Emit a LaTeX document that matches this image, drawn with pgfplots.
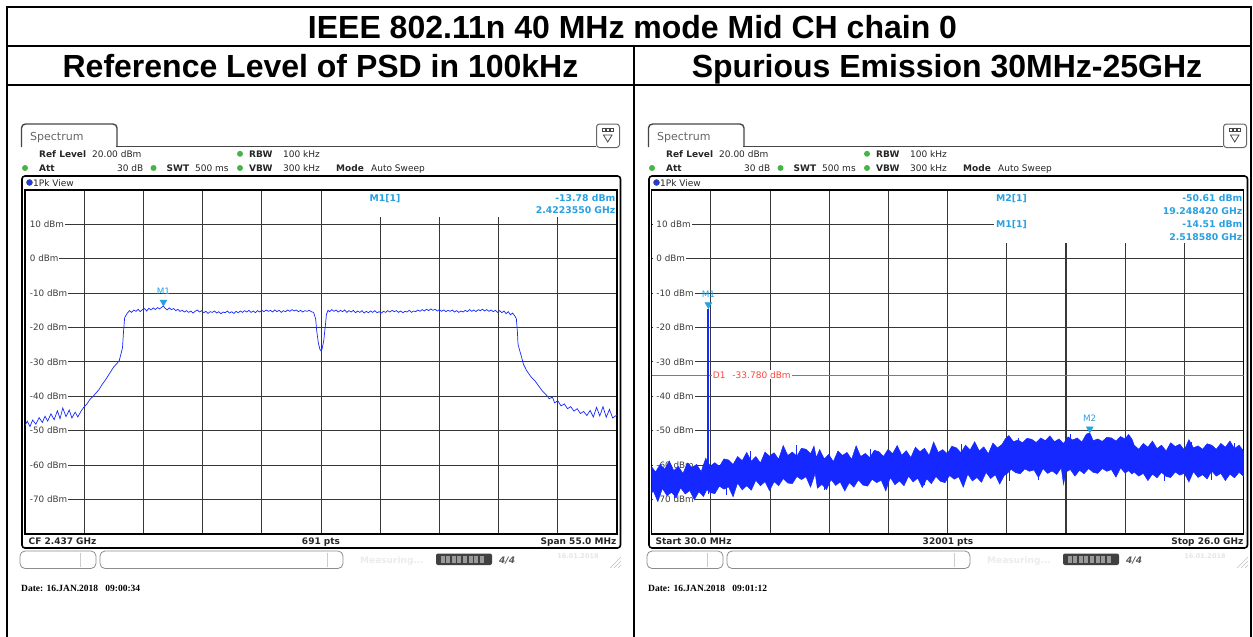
\documentclass[border=0pt]{standalone}
\usepackage{fontspec}
\setmainfont{Liberation Sans}
\newfontfamily\dvs{DejaVu Sans}
\newfontfamily\lser{Liberation Serif}
\usepackage{pgfplots}
\pgfplotsset{compat=1.18}

\definecolor{trace}{RGB}{20,40,255}
\definecolor{mk}{RGB}{40,160,225}
\definecolor{dline}{RGB}{255,70,60}
\definecolor{gridc}{RGB}{55,55,55}
\definecolor{lbl}{RGB}{60,60,60}
\definecolor{led}{RGB}{70,180,70}
\definecolor{chr}{RGB}{70,70,70}

\newcommand{\sm}{\dvs\fontsize{9}{10}\selectfont}
\newcommand{\lb}{\dvs\fontsize{8.8}{10}\selectfont}
\newcommand{\infofont}{\dvs\fontsize{9.3}{10}\selectfont\bfseries}

\tikzset{
  hd/.style={anchor=base west, inner sep=0pt, font=\sm, text=black!85},
  info/.style={anchor=base west, inner sep=0pt, font=\infofont, text=mk},
  ylab/.style={anchor=west, fill=white, inner xsep=0pt, inner ysep=1.2pt,
    text=lbl, font=\lb},
}
\pgfplotsset{
  scr/.style={scale only axis, width=591.9pt, height=344pt, anchor=south west,
    ymin=-80, ymax=20, ytick={-70,-60,-50,-40,-30,-20,-10,0,10},
    grid=major, xticklabels={}, yticklabels={}, major tick length=0pt,
    axis line style={black, line width=1.3pt},
    major grid style={gridc, line width=1.1pt}},
  mkr/.style={mk, only marks, mark=triangle*, mark size=4pt,
    mark options={yshift=4pt, rotate=180}, nodes near coords={#1},
    every node near coord/.style={font=\lb, text=mk, anchor=south, yshift=6.5pt, inner sep=0.5pt}},
}

% instrument screen chrome, drawn in pixel coordinates (y down)
\newcommand{\screen}[5]{%
  \begin{scope}[shift={(#1,0)}]
    \draw[chr, line width=1.4pt, fill=white, rounded corners=4pt] (21.5,147) -- (21.5,124) -- (117,124) -- (117,147);
    \draw[chr, line width=1.4pt] (116.3,146.5) -- (596,146.5);
    \node[anchor=base west, inner sep=0pt, font=\dvs\fontsize{11}{12}\selectfont, text=black!60] at (30,140) {Spectrum};
    \draw[black!60, line width=1pt, fill=white, rounded corners=3pt] (596.5,124) rectangle (619.5,147.5);
    \fill[chr] (601.5,127.5) rectangle (614,132);
    \foreach \i in {0,1,2} \fill[white] (603.2+3.8*\i,129) rectangle (605.2+3.8*\i,130.6);
    \draw[chr, line width=0.8pt] (603.5,135) -- (612,135) -- (607.75,142) -- cycle;
    \node[hd, font=\sm\bfseries] at (39,157.3) {Ref Level};
    \node[hd] at (92,157.3) {20.00 dBm};
    \fill[led] (240,153.8) circle (3);
    \node[hd, font=\sm\bfseries] at (249,157.3) {RBW};
    \node[hd] at (283,157.3) {100 kHz};
    \fill[led] (25,168) circle (3);
    \node[hd, font=\sm\bfseries] at (39,171.5) {Att};
    \node[hd, anchor=base east] at (143.5,171.5) {30 dB};
    \fill[led] (153.5,168) circle (3);
    \node[hd, font=\sm\bfseries] at (166.5,171.5) {SWT};
    \node[hd] at (195,171.5) {500 ms};
    \fill[led] (240,168) circle (3);
    \node[hd, font=\sm\bfseries] at (249,171.5) {VBW};
    \node[hd] at (283,171.5) {300 kHz};
    \node[hd, font=\sm\bfseries] at (336,171.5) {Mode};
    \node[hd] at (371,171.5) {Auto Sweep};
    \draw[black, line width=1.6pt, rounded corners=3pt] (22,176) rectangle (620.5,548);
    \draw[black!70, fill={rgb,255:red,30;green,60;blue,230}] (29.5,182.5) circle (3);
    \node[hd] at (33,186) {1Pk View};
    \node[hd, font=\sm\bfseries] at (28.5,544) {#2};
    \node[hd, anchor=base, font=\sm\bfseries] at (321,544) {#3};
    \node[hd, anchor=base east, font=\sm\bfseries] at (616.5,544) {#4};
    \draw[black!45, line width=0.8pt, rounded corners=5pt] (20,551) rectangle (96,568.5);
    \draw[black!20] (80,553) -- (80,566.5);
    \draw[black!45, line width=0.8pt, rounded corners=5pt] (100,551) rectangle (343,568.5);
    \draw[black!20] (327,553) -- (327,566.5);
    \node[hd, font=\sm\bfseries, text=black!8] at (360,563) {Measuring...};
    \fill[black!75, rounded corners=2pt] (436,553.5) rectangle (492,565);
    \foreach \i in {0,...,7} \fill[black!40] (440.5+5.6*\i,555.5) rectangle (444.5+5.6*\i,563);
    \node[hd, font=\sm\bfseries\itshape, text=black!65] at (499,563.5) {4/4};
    \node[hd, anchor=base, font=\dvs\fontsize{6.5}{7}\selectfont\bfseries, text=black!10] at (578,558) {16.01.2018};
    \foreach \i in {0,1,2} \draw[black!25] (610+4*\i,568) -- (621,557+4*\i);
    \node[anchor=base west, inner sep=0pt, font=\lser\fontsize{9.5}{10}\selectfont\bfseries] at (21,591) {#5};
  \end{scope}}

\begin{document}
\begin{tikzpicture}
\path[use as bounding box] (0pt,0pt) rectangle (1253pt,-637pt);

% ---------- left: PSD reference level ----------
\begin{axis}[scr, at={(25.1pt,-533.9pt)}, xmin=2409.5, xmax=2464.5,
  xtick={2415,2420.5,2426,2431.5,2437,2442.5,2448,2453.5,2459}]
  \pgfplotsinvokeforeach{10,0,-10,-20,-30,-40,-50,-60,-70}{%
    \node[ylab] at (axis cs:2409.6,#1) {\kern3.5pt#1 dBm\kern1pt};}
  \addplot[trace, line width=0.7pt] coordinates {
    (2409.5,-48.5)(2409.7,-47.2)(2409.95,-48.8)(2410.2,-46.9)(2410.5,-48.1)(2410.8,-46.2)
    (2411.1,-47.6)(2411.35,-45.8)(2411.6,-47.2)(2411.9,-45.1)(2412.2,-46.8)(2412.5,-44.2)
    (2412.75,-46.5)(2413.0,-43.4)(2413.3,-45.9)(2413.6,-44.0)(2413.85,-46.3)(2414.15,-44.6)
    (2414.4,-46.0)(2414.7,-44.3)(2415.0,-43.0)(2415.25,-42.2)(2415.55,-40.8)(2415.8,-40.1)
    (2416.1,-39.0)(2416.4,-37.9)(2416.65,-36.6)(2416.95,-35.3)(2417.2,-34.1)(2417.5,-32.6)
    (2417.75,-31.4)(2418.05,-30.4)(2418.25,-29.6)(2418.4,-27.8)(2418.55,-25.9)(2418.65,-21.0)
    (2418.75,-17.2)(2418.9,-16.3)
    (2419.0,-15.8)(2419.2,-15.1)(2419.4,-15.6)(2419.6,-14.9)(2419.8,-15.3)(2420.0,-14.7)
    (2420.2,-15.4)(2420.4,-14.8)(2420.6,-14.5)(2420.8,-15.2)(2421.0,-14.4)(2421.2,-14.9)
    (2421.4,-14.3)(2421.6,-14.8)(2421.8,-14.2)(2422.0,-14.6)(2422.2,-14.1)(2422.355,-13.78)
    (2422.5,-14.4)(2422.7,-14.9)(2422.9,-14.3)(2423.1,-14.8)(2423.3,-14.5)(2423.5,-15.1)
    (2423.7,-14.7)(2423.9,-15.3)(2424.1,-15.0)(2424.3,-15.5)(2424.5,-15.1)(2424.7,-15.6)
    (2424.9,-15.2)(2425.1,-15.8)(2425.3,-15.3)(2425.5,-14.9)(2425.7,-15.5)(2425.9,-15.1)
    (2426.1,-15.7)(2426.3,-15.3)(2426.5,-15.9)(2426.7,-15.4)(2426.9,-15.6)(2427.1,-15.2)
    (2427.3,-15.8)(2427.5,-15.4)(2427.7,-16.0)(2427.9,-15.5)(2428.1,-15.7)(2428.3,-15.2)
    (2428.5,-15.8)(2428.7,-15.4)(2428.9,-15.9)(2429.1,-15.3)(2429.3,-15.7)(2429.5,-15.2)
    (2429.7,-15.6)(2429.9,-15.1)(2430.1,-15.5)(2430.3,-15.0)(2430.5,-15.6)(2430.7,-15.2)
    (2430.9,-15.7)(2431.1,-15.1)(2431.3,-15.5)(2431.5,-15.0)(2431.7,-15.4)(2431.9,-14.9)
    (2432.1,-15.3)(2432.3,-15.0)(2432.5,-15.5)(2432.7,-14.9)(2432.9,-15.4)(2433.1,-15.0)
    (2433.3,-15.6)(2433.5,-15.1)(2433.7,-15.4)(2433.9,-14.9)(2434.1,-15.3)(2434.3,-14.8)
    (2434.5,-15.2)(2434.7,-14.9)(2434.9,-15.4)(2435.1,-15.0)(2435.3,-15.5)(2435.5,-15.1)
    (2435.7,-15.3)(2435.9,-15.0)(2436.1,-15.4)(2436.3,-15.6)
    (2436.5,-17.5)(2436.6,-21.0)(2436.75,-24.5)(2436.9,-26.4)(2437.0,-26.8)(2437.1,-26.2)
    (2437.25,-23.8)(2437.4,-19.5)(2437.5,-16.2)(2437.65,-15.0)
    (2437.8,-15.4)(2438.0,-14.8)(2438.2,-15.3)(2438.4,-14.9)(2438.6,-15.5)(2438.8,-15.0)
    (2439.0,-15.4)(2439.2,-14.9)(2439.4,-15.6)(2439.6,-15.1)(2439.8,-15.5)(2440.0,-15.0)
    (2440.2,-15.7)(2440.4,-15.2)(2440.6,-15.6)(2440.8,-15.1)(2441.0,-15.8)(2441.2,-15.3)
    (2441.4,-15.7)(2441.6,-15.2)(2441.8,-15.6)(2442.0,-15.1)(2442.2,-15.7)(2442.4,-15.4)
    (2442.6,-15.8)(2442.8,-15.3)(2443.0,-15.6)(2443.2,-15.1)(2443.4,-15.5)(2443.6,-15.0)
    (2443.8,-15.4)(2444.0,-15.1)(2444.2,-15.6)(2444.4,-15.2)(2444.6,-15.7)(2444.8,-15.3)
    (2445.0,-15.5)(2445.2,-15.0)(2445.4,-15.6)(2445.6,-15.2)(2445.8,-15.4)(2446.0,-14.9)
    (2446.2,-15.3)(2446.4,-14.8)(2446.6,-15.2)(2446.8,-14.7)(2447.0,-15.1)(2447.2,-14.6)
    (2447.4,-15.0)(2447.6,-14.7)(2447.8,-15.2)(2448.0,-14.8)(2448.2,-15.3)(2448.4,-14.9)
    (2448.6,-15.4)(2448.8,-15.0)(2449.0,-15.3)(2449.2,-14.9)(2449.4,-15.5)(2449.6,-15.1)
    (2449.8,-15.6)(2450.0,-15.2)(2450.2,-15.5)(2450.4,-15.0)(2450.6,-15.4)(2450.8,-14.8)
    (2451.0,-15.3)(2451.2,-14.9)(2451.4,-15.4)(2451.6,-14.8)(2451.8,-15.1)(2452.0,-14.7)
    (2452.2,-15.2)(2452.4,-14.8)(2452.6,-15.3)(2452.8,-14.9)(2453.0,-15.4)(2453.2,-15.0)
    (2453.4,-15.6)(2453.6,-15.1)(2453.8,-15.7)(2454.0,-15.2)(2454.2,-16.0)(2454.4,-15.4)
    (2454.6,-16.3)(2454.8,-15.8)(2455.0,-16.6)
    (2455.15,-17.5)(2455.25,-21.5)(2455.3,-24.8)(2455.45,-26.6)(2455.6,-28.2)(2455.8,-30.6)
    (2456.1,-32.5)(2456.5,-34.3)(2456.9,-35.6)(2457.2,-36.9)(2457.6,-38.6)(2457.9,-39.5)
    (2458.2,-40.7)(2458.5,-40.2)(2458.7,-41.9)(2459.0,-41.3)(2459.3,-42.8)(2459.6,-42.2)
    (2459.9,-43.6)(2460.2,-43.0)(2460.5,-44.3)(2460.8,-43.6)(2461.1,-45.0)(2461.4,-44.4)
    (2461.7,-45.6)(2462.0,-44.1)(2462.3,-46.0)(2462.6,-43.2)(2462.9,-45.7)(2463.2,-43.0)
    (2463.5,-46.1)(2463.8,-43.8)(2464.1,-46.3)(2464.5,-45.4)};
  \addplot[mkr=M1] coordinates {(2422.355,-13.78)};
\end{axis}

% ---------- right: spurious emission ----------
\begin{axis}[scr, at={(651.7pt,-533.9pt)}, xmin=0.03, xmax=26,
  xtick={2.627,5.224,7.821,10.418,13.015,15.612,18.209,20.806,23.403}]
  \pgfplotsinvokeforeach{10,0,-10,-20,-30,-40,-50,-60,-70}{%
    \node[ylab] at (axis cs:0.075,#1) {\kern3.5pt#1 dBm\kern1pt};}
  \addplot[dline, line width=0.8pt] coordinates {(0.03,-33.78) (26,-33.78)};
  \node[anchor=west, fill=white, text=dline, font=\sm, inner xsep=1pt, inner ysep=1pt]
    at (axis cs:2.66,-33.78) {D1\kern7pt-33.780 dBm};
  % noise band: upper envelope left to right, lower envelope right to left
  \addplot[draw=trace, fill=trace, line width=0.5pt] coordinates {
    (0.03,-60.5)(0.2,-62.0)(0.4,-59.8)(0.6,-61.2)(0.8,-58.8)(1.0,-61.6)(1.2,-60.4)(1.4,-62.4)
    (1.6,-59.4)(1.8,-60.7)(2.0,-59.8)(2.2,-61.9)(2.4,-58.0)(2.6,-60.3)(2.8,-59.3)(3.0,-60.4)
    (3.2,-58.2)(3.4,-58.5)(3.6,-59.8)(3.8,-57.5)(4.0,-58.7)(4.2,-56.3)(4.4,-58.9)(4.6,-57.5)
    (4.8,-59.4)(5.0,-56.2)(5.2,-57.4)(5.4,-56.4)(5.6,-58.3)(5.8,-54.3)(6.0,-57.2)(6.2,-56.2)
    (6.4,-57.4)(6.6,-55.1)(6.8,-55.4)(7.0,-56.7)(7.15,-54.5)(7.25,-57.8)(7.4,-55.5)(7.6,-58.2)
    (7.8,-56.9)(8.0,-59.0)(8.2,-55.9)(8.4,-57.2)(8.6,-56.3)(8.8,-58.3)(9.0,-54.4)(9.2,-57.5)
    (9.4,-56.6)(9.6,-57.8)(9.8,-55.7)(10.0,-56.1)(10.2,-57.5)(10.4,-55.4)(10.6,-56.7)(10.8,-54.3)
    (11.0,-57.1)(11.2,-55.8)(11.4,-57.8)(11.6,-54.8)(11.8,-56.1)(12.0,-55.1)(12.2,-57.2)(12.4,-53.3)
    (12.6,-56.3)(12.8,-55.5)(13.0,-56.7)(13.2,-54.5)(13.4,-55.0)(13.6,-56.4)(13.8,-54.2)(14.0,-55.6)
    (14.2,-53.2)(14.4,-55.9)(14.6,-54.7)(14.8,-56.7)(15.0,-53.6)(15.2,-55.0)(15.4,-54.0)(15.55,-52.3)
    (15.7,-51.4)(15.9,-53.2)(16.1,-52.7)(16.3,-53.5)(16.5,-52.2)(16.7,-52.5)(16.9,-53.4)(17.1,-52.1)
    (17.3,-52.9)(17.5,-51.5)(17.7,-53.2)(17.9,-52.4)(18.1,-53.7)(18.3,-51.8)(18.5,-52.7)(18.7,-52.1)
    (18.9,-53.3)(19.1,-51.0)(19.25,-50.6)(19.4,-52.9)(19.6,-52.4)(19.8,-53.1)(20.0,-51.9)(20.2,-52.1)
    (20.4,-53.0)(20.6,-51.7)(20.8,-52.4)(20.95,-51.1)(21.1,-52.4)(21.2,-54.2)(21.4,-55.4)(21.6,-53.7)
    (21.8,-54.8)(22.0,-53.0)(22.2,-55.2)(22.4,-54.2)(22.6,-55.9)(22.8,-53.5)(23.0,-54.6)(23.2,-53.9)
    (23.4,-55.6)(23.6,-52.6)(23.8,-55.0)(24.0,-54.4)(24.2,-55.4)(24.4,-53.8)(24.6,-54.2)(24.8,-55.4)
    (25.0,-53.7)(25.2,-54.8)(25.4,-53.0)(25.6,-55.2)(25.8,-54.2)(26.0,-55.9)
    (26.0,-63.3)(25.8,-62.1)(25.6,-63.7)(25.4,-62.6)(25.2,-64.5)(25.0,-62.4)(24.8,-63.2)(24.6,-61.7)
    (24.4,-64.0)(24.2,-62.8)(24.0,-63.6)(23.8,-61.9)(23.6,-64.9)(23.4,-62.4)(23.2,-62.9)(23.0,-62.0)
    (22.8,-63.6)(22.6,-63.3)(22.4,-62.1)(22.2,-63.7)(22.0,-62.6)(21.8,-64.5)(21.6,-62.4)(21.4,-63.2)
    (21.2,-62.0)(21.1,-62.6)(20.95,-61.6)(20.8,-62.3)(20.6,-60.8)(20.4,-63.5)(20.2,-61.3)(20.0,-61.8)
    (19.8,-61.0)(19.6,-62.4)(19.4,-62.1)(19.2,-61.0)(19.0,-62.5)(18.8,-61.5)(18.6,-63.2)(18.4,-61.3)
    (18.2,-62.0)(18.1,-65.6)(18.0,-60.8)(17.8,-62.7)(17.6,-61.7)(17.4,-62.4)(17.2,-61.0)(17.0,-63.6)
    (16.8,-61.4)(16.6,-61.8)(16.4,-61.1)(16.2,-62.5)(16.0,-62.2)(15.8,-61.2)(15.6,-62.6)(15.5,-63.0)
    (15.3,-65.5)(15.1,-62.8)(14.9,-63.9)(14.7,-62.1)(14.5,-65.0)(14.3,-63.6)(14.1,-64.6)(13.9,-62.6)
    (13.7,-66.4)(13.5,-63.4)(13.3,-64.1)(13.1,-63.0)(12.9,-65.1)(12.7,-64.7)(12.5,-63.3)(12.3,-65.4)
    (12.1,-64.0)(11.9,-66.5)(11.7,-63.8)(11.5,-64.9)(11.3,-63.2)(11.1,-66.0)(10.9,-64.6)(10.7,-65.7)
    (10.5,-63.6)(10.3,-67.5)(10.1,-64.4)(9.9,-65.1)(9.7,-64.1)(9.5,-66.1)(9.3,-65.8)(9.1,-64.3)
    (8.9,-66.4)(8.7,-65.1)(8.5,-67.5)(8.3,-64.9)(8.1,-65.9)(7.9,-64.2)(7.7,-67.1)(7.5,-65.6)
    (7.3,-66.7)(7.2,-62.4)(7.0,-66.4)(6.8,-63.4)(6.6,-64.2)(6.4,-63.3)(6.2,-65.4)(6.0,-65.2)
    (5.8,-63.9)(5.6,-66.0)(5.4,-64.8)(5.2,-67.4)(5.0,-64.8)(4.8,-66.0)(4.6,-64.4)(4.4,-67.3)
    (4.2,-66.0)(4.0,-67.2)(3.8,-65.2)(3.6,-69.2)(3.4,-66.3)(3.2,-67.0)(3.0,-66.1)(2.8,-68.3)
    (2.6,-68.0)(2.45,-67.1)(2.3,-69.1)(2.1,-67.7)(1.9,-70.1)(1.7,-67.4)(1.5,-68.4)(1.3,-66.6)
    (1.1,-69.4)(0.9,-67.9)(0.7,-68.9)(0.5,-66.8)(0.3,-70.6)(0.1,-67.5)(0.03,-68.1)(0.03,-60.5)};
  \addplot[trace, line width=0.5pt, unbounded coords=jump] coordinates {
    (4.35,-60)(4.35,-56.0)(4.35,nan)(6.35,-60)(6.35,-54.1)(6.35,nan)(9.6,-60)(9.6,-55.2)(9.6,nan)
    (13.6,-60)(13.6,-54.0)(13.6,nan)(16.1,-58)(16.1,-52.0)(16.1,nan)(18.4,-58)(18.4,-51.0)(18.4,nan)
    (23.7,-58)(23.7,-53.3)(23.7,nan)(25.6,-58)(25.6,-53.6)(25.6,nan)
    (1.0,-64)(1.0,-69.6)(1.0,nan)(3.3,-64)(3.3,-68.7)(3.3,nan)(7.6,-62)(7.6,-67.2)(7.6,nan)
    (12.0,-62)(12.0,-65.8)(12.0,nan)(15.7,-60)(15.7,-64.5)(15.7,nan)(17.0,-60)(17.0,-64.2)(17.0,nan)
    (22.5,-60)(22.5,-64.6)(22.5,nan)(24.6,-60)(24.6,-64.4)};
  \addplot[trace, line width=2pt] coordinates {(2.5186,-63) (2.5186,-14.51)};
  \addplot[trace, line width=0.6pt] coordinates {(2.5186,-68.3) (2.5186,-62)};
  \addplot[mkr=M1] coordinates {(2.5186,-14.51)};
  \addplot[mkr=M2] coordinates {(19.24842,-50.61)};
\end{axis}

% ---------- frame, titles, screen chrome (pixel coordinates) ----------
\begin{scope}[x=1pt, y=-1pt]
  \draw[black, line width=2pt] (6.3,7.3) -- (1252.2,7.3);
  \draw[black, line width=2pt] (6.3,45.5) -- (1252.2,45.5);
  \draw[black, line width=2pt] (6.3,84.5) -- (1252.2,84.5);
  \draw[black, line width=2pt] (7.3,6.3) -- (7.3,637);
  \draw[black, line width=2pt] (1251.2,6.3) -- (1251.2,637);
  \draw[black, line width=2pt] (633.5,45.5) -- (633.5,637);
  \node[anchor=base, inner sep=0pt, font=\bfseries\fontsize{32}{36}\selectfont] at (632.5,38.3)
    {IEEE 802.11n 40 MHz mode Mid CH chain 0};
  \node[anchor=base, inner sep=0pt, font=\bfseries\fontsize{32}{36}\selectfont] at (320.5,77.5)
    {Reference Level of PSD in 100kHz};
  \node[anchor=base, inner sep=0pt, font=\bfseries\fontsize{32}{36}\selectfont] at (947,77.5)
    {Spurious Emission 30MHz-25GHz};

  \screen{0}{CF 2.437 GHz}{691 pts}{Span 55.0 MHz}{Date: 16.JAN.2018\ \ \ 09:00:34}
  \screen{627}{Start 30.0 MHz}{32001 pts}{Stop 26.0 GHz}{Date: 16.JAN.2018\ \ \ 09:01:12}

  % marker readouts
  \fill[white] (330,191.3) rectangle (616,216.5);
  \node[info] at (369.5,201.7) {M1[1]};
  \node[info, anchor=base east] at (615.5,201.7) {-13.78 dBm};
  \node[info, anchor=base east] at (615.5,213.8) {2.4223550 GHz};
  \fill[white] (994,191.3) rectangle (1242.8,242.8);
  \node[info] at (996,201.7) {M2[1]};
  \node[info, anchor=base east] at (1242.5,201.7) {-50.61 dBm};
  \node[info, anchor=base east] at (1242.5,214) {19.248420 GHz};
  \node[info] at (996,227.7) {M1[1]};
  \node[info, anchor=base east] at (1242.5,227.7) {-14.51 dBm};
  \node[info, anchor=base east] at (1242.5,240) {2.518580 GHz};
\end{scope}
\end{tikzpicture}
\end{document}
